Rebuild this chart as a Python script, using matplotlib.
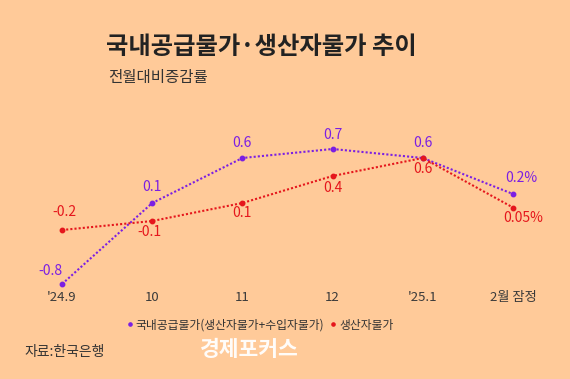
import matplotlib
matplotlib.use("Agg")
import matplotlib.pyplot as plt
from matplotlib.lines import Line2D

plt.rcParams['font.family'] = ['Noto Sans CJK KR', 'DejaVu Sans']

# ---- data ----
months = ["'24.9", "10", "11", "12", "'25.1", "2월 잠정"]
supply = [-0.8, 0.1, 0.6, 0.7, 0.6, 0.2]        # 국내공급물가
producer = [-0.2, -0.1, 0.1, 0.4, 0.6, 0.05]    # 생산자물가
supply_lbl = ["-0.8", "0.1", "0.6", "0.7", "0.6", "0.2%"]
producer_lbl = ["-0.2", "-0.1", "0.1", "0.4", "0.6", "0.05%"]

BG = "#FFCA99"
PURPLE = "#7B1FE3"
RED = "#E5161C"

fig = plt.figure(figsize=(5.7, 3.79), dpi=100, facecolor=BG)
ax = fig.add_axes([0.0351, 0.2401, 0.9386, 0.4433])
ax.set_facecolor(BG)
x = list(range(len(months)))

ax.plot(x, supply, color=PURPLE, ls=(0, (1, 1)), lw=1.5, marker="o", ms=3.2, clip_on=False, zorder=3)
ax.plot(x, producer, color=RED, ls=(0, (1, 1)), lw=1.5, marker="o", ms=3.2, clip_on=False, zorder=3)

ax.set_xlim(-0.466, 5.466)
ax.set_ylim(-0.844, 1.022)
for s in ax.spines.values():
    s.set_visible(False)
ax.set_yticks([])
ax.set_xticks(x)
ax.set_xticklabels(months, fontsize=9.5, color="#3a3a3a")
ax.tick_params(axis="x", length=0, pad=2)

# data labels (offsets in pixels)
sup_off = [(-12, 13), (0, 16), (0, 15), (0, 14), (0, 15), (8, 16)]
pro_off = [(2, 18), (-3, -11), (0, -10), (0, -12), (0, -11), (10, -10)]
for i in x:
    ax.annotate(supply_lbl[i], (i, supply[i]), xytext=sup_off[i], textcoords="offset pixels",
                ha="center", va="center", color=PURPLE, fontsize=10)
    ax.annotate(producer_lbl[i], (i, producer[i]), xytext=pro_off[i], textcoords="offset pixels",
                ha="center", va="center", color=RED, fontsize=10)

# titles
fig.text(106 / 570, 1 - 47 / 379, "국내공급물가·생산자물가 추이", fontsize=17.5, fontweight="bold",
         color="#222222", ha="left", va="center")
fig.text(108 / 570, 1 - 77 / 379, "전월대비증감률", fontsize=11.2, color="#333333", ha="left", va="center")

# legend
handles = [Line2D([], [], color=PURPLE, marker="o", ms=2.3, ls="none"),
           Line2D([], [], color=RED, marker="o", ms=2.3, ls="none")]
fig.legend(handles, ["국내공급물가(생산자물가+수입자물가)", "생산자물가"], loc="center",
           bbox_to_anchor=(260 / 570, 1 - 325 / 379), ncol=2, frameon=False, fontsize=8.5,
           handlelength=0.5, handletextpad=0.25, columnspacing=0.5, labelcolor="#333333")

fig.text(24 / 570, 1 - 352 / 379, "자료:한국은행", fontsize=10, color="#333333", ha="left", va="center")
fig.text(200 / 570, 1 - 350 / 379, "경제포커스", fontsize=15.5, fontweight="bold", color="white",
         ha="left", va="center", alpha=0.95)

fig.savefig("out.png", dpi=100, facecolor=BG)
